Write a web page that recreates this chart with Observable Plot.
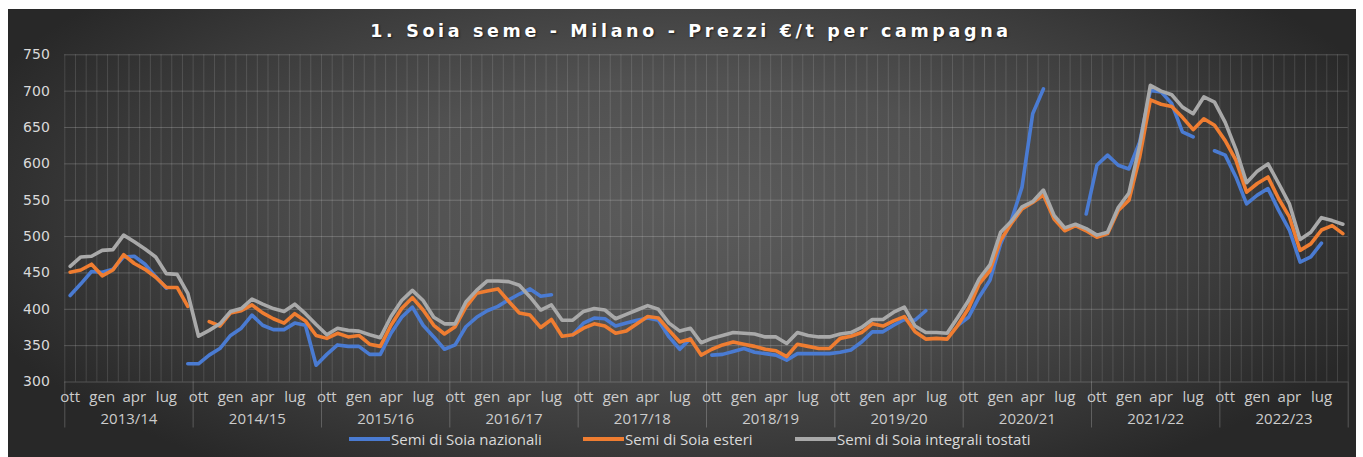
<!DOCTYPE html>
<html><head><meta charset="utf-8">
<script src="https://cdn.jsdelivr.net/npm/d3@7"></script>
<script src="https://cdn.jsdelivr.net/npm/@observablehq/plot@0.6"></script>
<style>
body{margin:0;background:#fff;width:1363px;height:457px;overflow:hidden;position:relative}
#chart{position:absolute;left:8px;top:9px;width:1348px;height:448px;background:radial-gradient(ellipse 56% 72% at 50% 44%, #5b5b5b 0%, #515151 40%, #3a3a3a 75%, #282828 100%);overflow:hidden}
#title{position:absolute;left:9px;top:10px;width:100%;height:25px;line-height:25px;text-align:center;color:#fff;font-family:"DejaVu Sans";font-weight:bold;font-size:17.5px;letter-spacing:3.65px;text-shadow:1px 1px 2px rgba(0,0,0,0.6)}
#plot{position:absolute;left:0;top:36px}
#legend{position:absolute;left:0;top:421px;width:100%;height:18px;font-family:"Open Sans";font-size:15px;color:#d9d9d9}
.item{position:absolute;top:0;display:flex;align-items:center;height:18px;white-space:nowrap}
.sw{width:41px;height:4px;margin-right:1px}
</style></head>
<body>
<div id="chart">
  <div id="title"></div>
  <div id="plot"></div>
  <div id="legend"></div>
</div>
<script>
const title = "1. Soia seme - Milano - Prezzi €/t per campagna";
const campaigns = ["2013/14","2014/15","2015/16","2016/17","2017/18","2018/19","2019/20","2020/21","2021/22","2022/23"];
const monthLabels = ["ott","gen","apr","lug"];
const yTicks = [300,350,400,450,500,550,600,650,700,750];
const seriesNames = ["Semi di Soia nazionali","Semi di Soia esteri","Semi di Soia integrali tostati"];
const seriesColors = ["#4a7bd2","#ef7d31","#a9a9a9"];

const nazionali = [
419,435,452,451,455,472,473,462,445,429,null,325,
325,337,346,364,374,392,378,372,372,381,378,323,
338,351,349,349,338,338,367,389,403,378,362,345,
351,376,389,398,404,413,421,428,418,420,null,365,
381,388,387,377,381,385,388,385,362,345,360,null,
337,338,342,346,341,339,337,330,339,339,339,339,
341,344,355,369,369,378,386,385,398,null,null,378,
389,417,440,490,522,568,669,703,null,null,null,531,
598,612,598,593,630,701,699,683,644,637,null,618,
612,582,545,557,566,536,509,465,472,491,null,null];

const esteri = [
451,454,462,446,454,475,463,455,444,430,430,404,
null,383,377,395,398,406,395,387,381,394,384,364,
360,367,362,364,352,349,378,401,416,399,378,366,
376,403,422,425,428,411,395,392,375,386,363,365,
374,380,377,367,370,380,390,388,371,355,359,337,
345,351,355,352,349,345,343,335,352,349,346,346,
360,363,368,380,377,384,390,369,359,360,359,378,
401,435,453,495,518,538,547,557,524,508,515,508,
499,504,536,550,609,688,682,679,664,647,662,653,
632,605,561,573,582,552,527,481,490,509,515,504];

const tostati = [
459,472,473,481,482,502,493,483,472,449,448,422,
363,371,380,397,401,414,407,401,397,407,394,379,
365,374,371,370,365,361,390,412,426,412,389,380,
380,410,426,439,439,438,433,417,399,406,385,385,
397,401,399,387,393,399,405,400,381,370,374,354,
360,364,368,367,366,362,362,353,368,364,362,362,
366,368,375,386,386,396,403,377,368,368,367,389,
412,442,461,506,521,541,548,564,529,512,517,511,
502,506,540,560,625,708,700,695,678,669,692,685,
657,620,574,590,600,573,545,496,506,526,522,517];

const allSeries = [nazionali, esteri, tostati];
const nMonths = nazionali.length;
const rows = allSeries.map((vals, s) => vals.map((v, i) => ({i, v, s})));

const monthTicks = [];
campaigns.forEach((c, k) => monthLabels.forEach((m, j) => monthTicks.push({i: 12 * k + 3 * j, label: m})));
const boundaries = d3.range(nMonths + 1).map(k => k - 0.5);
const campBounds = d3.range(campaigns.length + 1).map(k => 12 * k - 0.5);

document.getElementById("title").textContent = title;

const labelFont = "Open Sans";
const chart = Plot.plot({
  width: 1348, height: 385,
  marginLeft: 56.3, marginRight: 8.3, marginTop: 9.3, marginBottom: 48.5,
  style: {background: "transparent", overflow: "visible"},
  x: {domain: [-0.5, nMonths - 0.5], axis: null},
  y: {domain: [300, 750], axis: null},
  marks: [
    Plot.ruleX(boundaries, {x: d => d, stroke: "#ffffff", strokeOpacity: 0.13, strokeWidth: 1}),
    Plot.ruleY(yTicks, {y: d => d, stroke: "#ffffff", strokeOpacity: 0.2, strokeWidth: 1}),
    Plot.ruleX(campBounds, {x: d => d, y1: 300, y2: 300, insetBottom: -46, stroke: "#ffffff", strokeOpacity: 0.22}),
    Plot.text(yTicks, {x: -0.5, y: d => d, text: d => String(d), dx: -15, textAnchor: "end", fill: "#d9d9d9", fontSize: 14, fontFamily: "DejaVu Sans"}),
    Plot.text(monthTicks, {x: "i", y: 300, text: "label", dy: 15.5, fill: "#cccccc", fontSize: 15, fontFamily: labelFont}),
    Plot.text(campaigns, {x: (d, k) => 12 * k + 5.5, y: 300, text: d => d, dy: 37.5, fill: "#cccccc", fontSize: 15, fontFamily: labelFont}),
    ...rows.map((r, s) => Plot.line(r, {x: "i", y: "v", stroke: seriesColors[s], strokeWidth: 3.6, strokeLinejoin: "round", strokeLinecap: "round"}))
  ]
});
document.getElementById("plot").appendChild(chart);

const legendPos = [341, 575, 787];
const legend = document.getElementById("legend");
seriesNames.forEach((n, s) => {
  const it = document.createElement("div");
  it.className = "item";
  it.style.left = legendPos[s] + "px";
  const sw = document.createElement("div");
  sw.className = "sw";
  sw.style.background = seriesColors[s];
  const tx = document.createElement("span");
  tx.textContent = n;
  it.appendChild(sw); it.appendChild(tx);
  legend.appendChild(it);
});
</script>
</body></html>
